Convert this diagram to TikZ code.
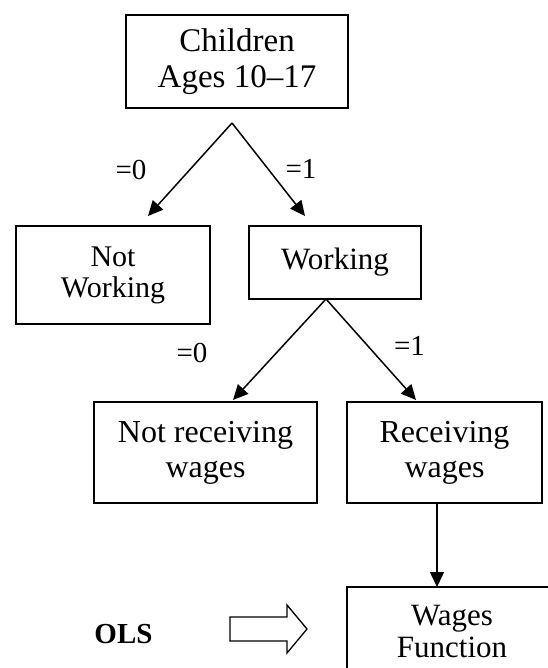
\documentclass[tikz,border=0pt]{standalone}
\usepackage{fontspec}
\setmainfont{Liberation Serif}
\usepackage{tikz}
\usetikzlibrary{positioning}
\usetikzlibrary{arrows.meta}
\usetikzlibrary{calc}

\tikzset{
  box/.style={draw, line width=2pt, align=center, inner sep=0pt},
  branch/.style={line width=1.5pt, -{Triangle[length=15pt,width=14pt]}},
  dummy/.style={anchor=base, font=\fontsize{29}{30}\selectfont}
}

\begin{document}
\begin{tikzpicture}[x=1pt, y=-1pt]

\useasboundingbox (0,0) rectangle (547,668);

\node[box, minimum width=222, minimum height=93,
      font=\fontsize{33}{36}\selectfont]
  (kids) at (237,62) {Children\\Ages 10--17};

\node[box, minimum width=194, minimum height=98,
      font=\fontsize{30}{31}\selectfont]
  (notwork) at (113,275) {Not\\Working};

\node[box, minimum width=172, minimum height=73,
      font=\fontsize{31}{31}\selectfont]
  (work) at (335,262.5) {Working};

\node[box, minimum width=223, minimum height=101,
      font=\fontsize{32}{35}\selectfont]
  (notwage) at (205.5,452.5) {Not receiving\\wages};

\node[box, minimum width=195, minimum height=101,
      font=\fontsize{32}{35}\selectfont]
  (wage) at (444.5,452.5) {Receiving\\wages};

\node[box, minimum width=210, minimum height=88,
      font=\fontsize{31}{32}\selectfont]
  (wagefn) at (452,631) {Wages\\Function};

% split points and arrow ends
\coordinate (splitA) at (232,123);
\coordinate (tipNW) at (148,216);
\coordinate (tipW) at (305,216);
\coordinate (splitB) at (326,299);
\coordinate (tipNR) at (233,400);
\coordinate (tipR) at (416,400);
\coordinate (downA) at (437,503);
\coordinate (downB) at (437,587);

\draw[branch] (splitA) -- (tipNW);
\draw[branch] (splitA) -- (tipW);
\draw[branch] (splitB) -- (tipNR);
\draw[branch] (splitB) -- (tipR);
\draw[branch] (downA) -- (downB);

\node[dummy] (zeroA) at (131,180) {=0};
\node[dummy] (oneA) at (301,179) {=1};
\node[dummy] (zeroB) at (192,362) {=0};
\node[dummy] (oneB) at (409.5,355) {=1};

\node[anchor=base, font=\fontsize{29}{30}\selectfont\bfseries]
  (ols) at (123.5,643) {OLS};

% hollow arrow
\coordinate (hollow) at (230,629);
\draw[line width=1.3pt, line join=miter]
  (hollow) ++(0,-12)
    -- ++(57,0)
    -- ++(0,-12)
    -- ++(20,24)
    -- ++(-20,24)
    -- ++(0,-12)
    -- ++(-57,0)
    -- cycle;

\end{tikzpicture}
\end{document}
